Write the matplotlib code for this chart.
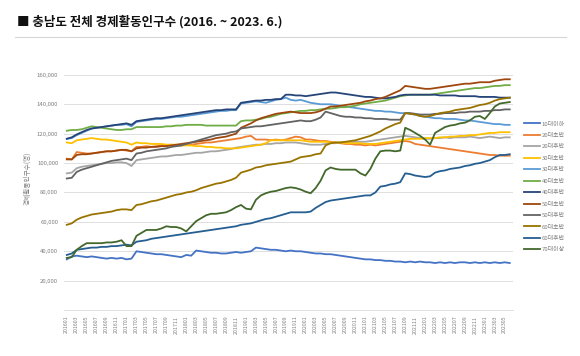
import matplotlib
matplotlib.use("Agg")
import matplotlib.pyplot as plt
from matplotlib.lines import Line2D
from matplotlib.ticker import FuncFormatter

plt.rcParams["font.family"] = ["Noto Sans CJK KR", "DejaVu Sans"]

# ── data (thousands of people), monthly 2016.01 ~ 2023.06 ──
months = [f"{y}{m:02d}" for y in range(2016, 2024) for m in range(1, 13)][:90]

teen = [34.5, 36.5, 37.0, 36.5, 36.0, 36.5, 36.0, 35.5, 35.0, 35.5, 35.0, 35.5,
        34.5, 35.0, 40.0, 39.5, 39.0, 38.5, 38.0, 38.0, 37.5, 37.0, 36.5, 36.0,
        37.5, 37.0, 40.5, 40.0, 39.5, 39.0, 39.0, 38.5, 38.5, 39.0, 39.5, 39.0,
        39.5, 40.0, 42.5, 42.0, 41.5, 41.0, 41.0, 40.5, 40.0, 40.5, 40.0, 40.0,
        39.5, 39.0, 38.5, 38.5, 38.0, 38.0, 37.5, 37.0, 36.5, 36.0, 35.5, 35.0,
        34.5, 34.5, 34.0, 34.0, 33.5, 33.5, 33.0, 33.0, 32.5, 33.0, 32.5, 33.0,
        32.5, 32.5, 32.0, 32.5, 32.0, 32.5, 32.0, 32.5, 32.5, 32.0, 32.5, 32.0,
        32.5, 32.0, 32.5, 32.0, 32.5, 32.0]
s20a = [103, 102.5, 107.5, 107, 106.5, 106.5, 107, 107.5, 108, 108, 108.5, 109,
        108.5, 108, 111, 111, 111.5, 111, 111.5, 112, 112, 112.5, 112, 112,
        112.5, 112.5, 113, 113.5, 114, 114, 114.5, 115, 115.5, 116, 116.5, 117,
        118, 118.5, 116, 116, 116, 115.5, 116, 115.5, 116, 117, 118, 117.5,
        116, 116, 115.5, 115, 115, 114.5, 114, 113.5, 113, 113, 112.5, 112.5,
        112, 112.5, 112, 112.5, 113, 113.5, 114, 114.5, 115, 114.5, 113, 112.5,
        112, 111.5, 111, 110.5, 110, 109.5, 109, 108.5, 108, 107.5, 107, 106.5,
        106, 105.5, 105.5, 105, 105, 105]
s20b = [93, 93.5, 96.5, 97.5, 98, 98.5, 99, 99.5, 100, 100, 100.5, 100.5,
        100, 98, 102, 102.5, 103, 103.5, 104, 104.5, 104.5, 105, 105.5, 105.5,
        106, 106.5, 107, 107, 107.5, 108, 108, 108.5, 109, 109.5, 110.5, 111,
        111.5, 112, 112.5, 112.5, 113, 113, 113.5, 113.5, 114, 114, 114, 113.5,
        113, 112.5, 112.5, 112.5, 113, 113.5, 113.5, 114, 114, 114, 114.5, 114.5,
        114.5, 115, 115.5, 116, 116.5, 117, 117.5, 118, 118.5, 118, 117.5, 117,
        116.5, 116.5, 117, 117, 117.5, 117, 117.5, 117.5, 117.5, 118, 117.5, 117,
        117.5, 118, 117.5, 117, 117.5, 117.5]
s30a = [114, 113.5, 115.5, 116, 116.5, 117, 116.5, 116, 116, 115.5, 115, 114.5,
        114, 112.5, 114, 113.5, 113.5, 113, 113, 113, 112.5, 112.5, 112.5, 112,
        112, 112, 111.5, 111.5, 111, 111, 110.5, 110.5, 110, 110, 110, 110.5,
        111, 111.5, 112, 112.5, 113.5, 115.5, 115.5, 115.5, 115.5, 115.5, 115.5, 115.5,
        115, 114.5, 114.5, 114.5, 114.5, 114, 114, 114, 113.5, 113.5, 113.5, 113.5,
        113, 113, 113, 113.5, 114, 114.5, 115, 115.5, 116, 116.5, 116.5, 116.5,
        117, 117, 117, 117.5, 117.5, 118, 118, 118.5, 118.5, 119, 119, 119.5,
        120, 120.5, 120.5, 121, 121, 121]
s30b = [116.5, 117, 119, 120.5, 122, 123.5, 124, 124.5, 125, 125.5, 126, 126,
        126.5, 125, 128, 128.5, 129, 129.5, 130, 130, 130.5, 131, 131.5, 131.5,
        132, 132.5, 133, 133.5, 134, 134.5, 135, 135.5, 135.5, 136, 136, 140.5,
        141, 141.5, 142, 141.5, 141, 142, 143, 143.5, 144.5, 143, 142.5, 143,
        142, 141, 140.5, 140, 140, 140, 139.5, 139, 138.5, 138, 137.5, 137,
        136.5, 136, 135.5, 135.5, 135, 135, 134.5, 134, 134, 133.5, 133, 132,
        131.5, 131, 130.5, 130.5, 130, 130, 130, 129.5, 129, 129, 128.5, 128,
        127.5, 127, 126.5, 126.5, 126, 126]
s40a = [122, 122.5, 122.5, 123, 124, 125, 124.5, 124, 123.5, 123, 122.5, 122.5,
        123, 123, 124.5, 124.5, 124.5, 124.5, 124.5, 124.5, 125, 125, 125.5, 125.5,
        126, 126, 126, 126, 125.5, 125.5, 125.5, 125.5, 125.5, 125.5, 125.5, 128.5,
        129, 129, 129.5, 130, 131, 131.5, 132.5, 133.5, 134, 134.5, 135, 135.5,
        135.5, 136, 136, 136.5, 137, 137, 137.5, 138, 138, 138.5, 139, 140,
        140.5, 141, 141.5, 142, 142.5, 143.5, 144.5, 145.5, 146, 146.5, 146.5, 146.5,
        146.5, 146.5, 147, 147.5, 148, 148.5, 149, 149.5, 150, 150.5, 151, 151,
        151.5, 152, 152.5, 152.5, 153, 153]
s40b = [116.5, 117.5, 119.5, 121, 122.5, 123.5, 124, 124.5, 125, 125.5, 126, 126.5,
        127, 126, 128.5, 129, 129.5, 130, 130.5, 130.5, 131, 131.5, 132, 132.5,
        133, 133.5, 134, 134.5, 135, 135.5, 136, 136, 136.5, 136.5, 136.5, 141,
        141.5, 142, 142.5, 142.5, 143, 143, 143.5, 143.5, 146.5, 146.5, 146, 146,
        145.5, 146, 146.5, 147, 147.5, 148, 148, 147.5, 147, 146.5, 146, 145.5,
        145, 145, 144.5, 144, 144, 144.5, 145, 146, 146.5, 146.5, 146.5, 146.5,
        146.5, 146.5, 146.5, 146, 146, 146, 146, 145.5, 145.5, 145.5, 145.5, 145,
        145, 145, 145, 144.5, 144.5, 144.5]
s50a = [102.5, 102.5, 105.5, 106, 106, 106.5, 107, 107.5, 108, 108, 108.5, 109,
        109, 108, 110, 110.5, 110.5, 111, 111, 111.5, 111.5, 112, 112.5, 113,
        113.5, 114, 114.5, 115, 115.5, 116, 117, 117.5, 118, 119, 120, 124,
        125.5, 127, 129, 130.5, 131.5, 132.5, 133.5, 134, 134.5, 135, 134.5, 134,
        134, 134, 134.5, 135.5, 137, 138.5, 138.5, 139, 139.5, 140, 140.5, 141,
        142, 142.5, 143.5, 144, 145, 146.5, 148, 149.5, 152.5, 152, 151.5, 151,
        150.5, 150.5, 151, 151.5, 152, 152.5, 153, 153.5, 154, 154, 154.5, 155,
        155, 155, 156, 156.5, 157, 157]
s50b = [89.5, 90, 94, 95.5, 96.5, 97.5, 98.5, 99.5, 100.5, 101.5, 102, 102.5,
        103, 102, 106.5, 107, 108, 108.5, 109, 109.5, 110, 111, 111.5, 112,
        113, 114, 115, 116, 117, 118, 119, 119.5, 120, 121, 121.5, 123.5,
        124, 124.5, 125, 125, 125.5, 126, 126.5, 127, 127.5, 128, 128.5, 129,
        128.5, 128.5, 129.5, 131, 135, 134, 133, 132, 131.5, 131.5, 131, 131,
        130.5, 130.5, 130, 130, 130, 129.5, 129.5, 129.5, 134, 134, 133.5, 133,
        133, 133, 133.5, 133.5, 134, 134, 134, 134.5, 134.5, 135, 135, 135,
        135.5, 135.5, 136, 136, 136.5, 136.5]
s60a = [58, 59, 61.5, 63, 64, 65, 65.5, 66, 66.5, 67, 68, 68.5,
        68.5, 68, 71.5, 72, 73, 74, 74.5, 75.5, 76.5, 77.5, 78.5, 79,
        80, 80.5, 81.5, 83, 84, 85, 86, 86.5, 87.5, 88.5, 90, 93.5,
        94.5, 95.5, 97, 97.5, 98.5, 99, 99.5, 100, 100.5, 101, 102.5, 104,
        104.5, 105, 106, 106.5, 112, 113.5, 114, 114, 114.5, 115, 115.5, 116.5,
        117.5, 118.5, 120, 121.5, 123.5, 125, 126.5, 127.5, 134, 133.5, 133, 132,
        131.5, 132, 133, 134, 134.5, 135, 136, 136.5, 137, 137.5, 138.5, 139.5,
        140, 141, 142.5, 143.5, 144, 144.5]
s60b = [37.5, 38.5, 41, 41.5, 42, 42.5, 42.5, 43, 43, 43.5, 43.5, 44,
        44.5, 44, 46.5, 47, 47.5, 48.5, 49, 49.5, 50, 50.5, 51, 51.5,
        52, 52.5, 53, 53.5, 54, 54.5, 55, 55.5, 56, 56.5, 57, 58,
        58.5, 59, 60, 61, 62, 62.5, 63.5, 64.5, 65.5, 66.5, 66.5, 66.5,
        66.5, 67, 69.5, 71.5, 73.5, 74.5, 75, 75.5, 76, 76.5, 77, 77.5,
        78, 78, 80, 84, 84.5, 85.5, 86, 87, 93, 92.5, 91.5, 91,
        90.5, 91, 93.5, 94.5, 95, 96, 96.5, 97, 98, 98.5, 99.5, 100,
        101, 102, 104, 105.5, 105.5, 106]
s70 = [35.5, 36, 41, 43.5, 45.5, 45.5, 45.5, 45.5, 46, 46, 46.5, 47.5,
       43.5, 43.5, 50.5, 52.5, 54.5, 54.5, 54.5, 55.5, 57, 56.5, 56.5, 55.5,
       53.5, 57, 60.5, 62.5, 64.5, 65.5, 65.5, 66, 66.5, 68, 70, 71.5,
       69, 68.5, 75, 78, 79.5, 80.5, 81, 82, 83, 83.5, 83, 82,
       80.5, 79.5, 83, 88, 95, 97, 96, 95.5, 95.5, 95.5, 95.5, 93,
       91.5, 96, 103, 108, 108.5, 108.5, 108, 108.5, 124, 122.5, 120.5, 118.5,
       116, 112.5, 120.5, 122.5, 124.5, 125.5, 126, 127, 127.5, 129, 131.5, 132,
       130, 134, 138.5, 140.5, 141, 141.5]

series = [teen, s20a, s20b, s30a, s30b, s40a, s40b, s50a, s50b, s60a, s60b, s70]
labels = ["10대이하", "20대초반", "20대후반", "30대초반", "30대후반", "40대초반",
          "40대후반", "50대초반", "50대후반", "60대초반", "60대후반", "70대이상"]
colors = ["#4472C4", "#ED7D31", "#A5A5A5", "#FFC000", "#5B9BD5", "#70AD47",
          "#264478", "#9E480E", "#636363", "#997300", "#255E91", "#43682B"]

fig = plt.figure(figsize=(5.8, 3.56), dpi=100)
ax = fig.add_axes([0.110, 0.129, 0.774, 0.702])

x = list(range(len(months)))
for vals, lab, col in zip(series, labels, colors):
    ax.plot(x, [v * 1000 for v in vals], color=col, lw=1.3, label=lab)

ax.set_xlim(-0.6, 89.6)
ax.set_ylim(0, 170000)
ax.set_yticks(range(20000, 160001, 20000))
ax.yaxis.set_major_formatter(FuncFormatter(lambda v, p: f"{int(v):,}"))
ax.set_xticks(x[::2])
ax.set_xticklabels(months[::2], rotation=90, fontsize=3.8, color="#7F7F7F")
ax.tick_params(axis="y", labelsize=4.3, colors="#7F7F7F", length=0, pad=4)
ax.tick_params(axis="x", length=0, pad=4)
ax.grid(axis="y", color="#D9D9D9", lw=0.6)
ax.set_axisbelow(True)
for s in ["top", "right", "left"]:
    ax.spines[s].set_visible(False)
ax.spines["bottom"].set_color("#D9D9D9")
ax.spines["bottom"].set_linewidth(0.6)

fig.text(0.047, 0.50, "경제활동인구수(명)", rotation=90, ha="center", va="center",
         fontsize=4.8, color="#7F7F7F")

fig.legend(loc="center left", bbox_to_anchor=(0.895, 0.475), frameon=False,
           fontsize=4.3, labelspacing=1.05, handlelength=2.6, handletextpad=0.3,
           labelcolor="#7F7F7F")

fig.text(0.03, 0.938, "■ 충남도 전체 경제활동인구수 (2016. ~ 2023. 6.)",
         fontsize=9, fontweight="bold", va="center", color="#111111")
fig.add_artist(Line2D([0.025, 0.975], [0.896, 0.896], color="#D5D5D5", lw=0.8,
                      transform=fig.transFigure))

fig.savefig("out.png", dpi=100, facecolor="white")
